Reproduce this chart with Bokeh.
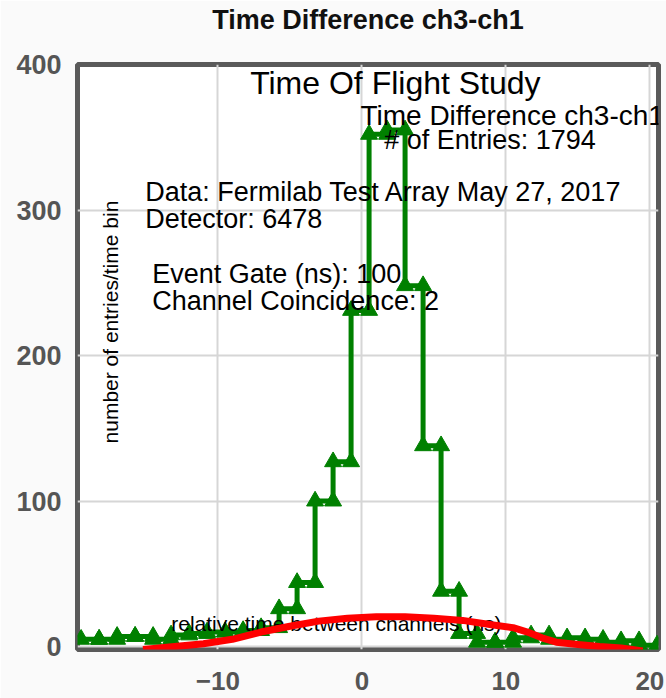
import numpy as np
from bokeh.plotting import figure
from bokeh.models import FixedTicker
from bokeh.core.properties import value
from bokeh.embed import file_html
from bokeh.resources import INLINE

# ---------------- data ----------------
bin_width = 1.25
first_edge = -19.5
counts = [5, 5, 7, 7, 5, 8, 9, 10, 10, 11, 13, 26, 44, 100, 127, 231,
          352, 355, 248, 138, 38, 9, 3, 3, 6, 8, 5, 6, 5, 3, 4, 1]

fit_x = [-15.2, -13, -11, -9, -7, -5, -3, -1, 1, 3, 5, 7, 9, 10.5, 11.5,
         12.5, 13.5, 15, 16.5, 18, 19.5]
fit_y = [-2, 0, 2, 5, 10, 14, 17.5, 19.5, 20.5, 20.5, 19.5, 18, 15, 13, 10,
         6, 3, 1.5, 0, -1, -3]

x_ticks = [-10, 0, 10, 20]
y_ticks = [0, 100, 200, 300, 400]

title_text = "Time Difference ch3-ch1"
info_texts = ["Time Of Flight Study", "Time Difference ch3-ch1", "# of Entries: 1794",
              "Data: Fermilab Test Array May 27, 2017", "Detector: 6478",
              "Event Gate (ns): 100", "Channel Coincidence: 2"]
x_label = "relative time between channels (ns)"
y_label = "number of entries/time bin"

# ---------------- layout / style ----------------
info_x = [-7.76, -0.1, 1.55, -15.05, -15.05, -14.56, -14.56]
info_y = [387.0, 365.0, 347.8, 312.5, 294.0, 256.0, 237.6]
info_size = ["32px", "28px", "27px", "27px", "27px", "27px", "27px"]

FONT = "Liberation Sans"

edges = first_edge + bin_width * np.arange(len(counts) + 1)
step_x = np.column_stack([edges[:-1], edges[1:]]).ravel()
step_y = np.repeat(np.asarray(counts, dtype=float), 2)

# a blank second line keeps the title near the top of the 64px band
p = figure(width=666, height=698, x_range=(-19.75, 20.6), y_range=(-2, 400),
           output_backend="svg", toolbar_location=None,
           min_border_left=77, min_border_right=8, min_border_top=64, min_border_bottom=49,
           title=title_text + "\n ")

p.background_fill_color = "white"
p.border_fill_color = "#fafafa"
p.outline_line_color = "#5a5a5a"
p.outline_line_width = 5

p.title.align = "center"
p.title.text_font = FONT
p.title.text_font_size = "27px"
p.title.text_font_style = "bold"
p.title.text_color = "#111111"
p.title.text_line_height = 1.0
p.title.standoff = 0

for ax in (p.xaxis, p.yaxis):
    ax.axis_line_color = None
    ax.major_tick_line_color = None
    ax.minor_tick_line_color = None
    ax.major_label_text_font = FONT
    ax.major_label_text_font_style = "bold"
    ax.major_label_text_color = "#555555"
p.yaxis.major_label_text_font_size = "27px"
p.xaxis.major_label_text_font_size = "26px"
p.xaxis.ticker = FixedTicker(ticks=x_ticks)
p.yaxis.ticker = FixedTicker(ticks=y_ticks)
p.xaxis.major_label_standoff = 16
p.yaxis.major_label_standoff = 10

p.xgrid.ticker = FixedTicker(ticks=x_ticks)
p.ygrid.ticker = FixedTicker(ticks=y_ticks)
for g in (p.xgrid, p.ygrid):
    g.grid_line_color = "#d6d6d6"
    g.grid_line_width = 2

# histogram step line with triangle markers
p.line(step_x, step_y, line_color="green", line_width=5)
p.scatter(step_x, step_y, marker="triangle", size=17, fill_color="green",
          line_color="green")

# texts inside the frame
for t, x, y, s in zip(info_texts, info_x, info_y, info_size):
    p.text(x=[x], y=[y], text=[t], text_font=value(FONT), text_font_size=s,
           text_baseline="middle", text_align="left", text_color="black")
p.text(x=[-13.24], y=[16.0], text=[x_label], text_font=value(FONT), text_font_size="21px",
       text_baseline="middle", text_align="left", text_color="black")
p.text(x=[-17.48], y=[223.0], text=[y_label], text_font=value(FONT), text_font_size="21px",
       text_baseline="middle", text_align="center", angle=np.pi / 2, text_color="black")

# fit curve
p.line(fit_x, fit_y, line_color="red", line_width=7, line_join="round")

open("out.html", "w").write(file_html(p, INLINE))
